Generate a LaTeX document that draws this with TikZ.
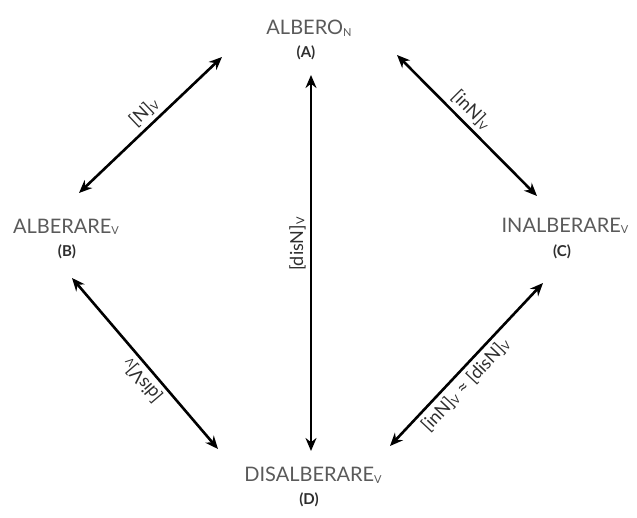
\documentclass[tikz,border=0pt]{standalone}
\usepackage{fontspec}
\setmainfont{Lato}
\usetikzlibrary{arrows.meta}
\definecolor{txtgray}{HTML}{5A5A5A}
\definecolor{lblgray}{HTML}{2E2E2E}
\tikzset{
  word/.style={text=txtgray, font=\fontsize{20}{22}\selectfont, inner sep=0pt},
  letter/.style={text=lblgray, font=\fontsize{15}{17}\selectfont\bfseries, inner sep=0pt},
  rel/.style={draw=black, line width=2.6pt, {Stealth[length=13pt,width=11pt]}-{Stealth[length=13pt,width=11pt]}},
  lbl/.style={text=lblgray, font=\fontsize{18}{20}\selectfont, inner sep=4pt}
}
\newcommand{\sub}[1]{\raisebox{-0.15ex}{\fontsize{11}{12}\selectfont #1}}
\begin{document}
\begin{tikzpicture}[x=1pt,y=-1pt]
\useasboundingbox (0,0) rectangle (637,518);
% nodes
\node[word] (A) at (309,28) {ALBERO\sub{N}};
\node[letter] (Al) at (306,53) {(A)};
\node[word] (B) at (66,227) {ALBERARE\sub{V}};
\node[letter] (Bl) at (67,252) {(B)};
\node[word] (C) at (565,226) {INALBERARE\sub{V}};
\node[letter] (Cl) at (562,252) {(C)};
\node[word] (D) at (313,475) {DISALBERARE\sub{V}};
\node[letter] (Dl) at (309,500) {(D)};
% arrow ends
\coordinate (ab1) at (222,57);  \coordinate (ab2) at (79,193);
\coordinate (ac1) at (397,55);  \coordinate (ac2) at (537,196);
\coordinate (ad1) at (311,75);  \coordinate (ad2) at (311,451);
\coordinate (bd1) at (72,278);  \coordinate (bd2) at (218,449);
\coordinate (cd1) at (543,283); \coordinate (cd2) at (390,446);
% connectors
\draw[rel] (ab1) -- node[lbl, pos=0.48, sloped, anchor=south] {[N]\sub{V}} (ab2);
\draw[rel] (ac1) -- node[lbl, pos=0.46, sloped, anchor=south] {[inN]\sub{V}} (ac2);
\draw[rel] (ad1) -- node[lbl, pos=0.45, rotate=90, anchor=south] {[disN]\sub{V}} (ad2);
\draw[rel] (bd1) -- node[lbl, pos=0.55, rotate=130.5, anchor=south] {[disV]\sub{V}} (bd2);
\draw[rel] (cd1) -- node[lbl, pos=0.57, rotate=46.8, anchor=north] {[inN]\sub{V} ≈ [disN]\sub{V}} (cd2);
\end{tikzpicture}
\end{document}
